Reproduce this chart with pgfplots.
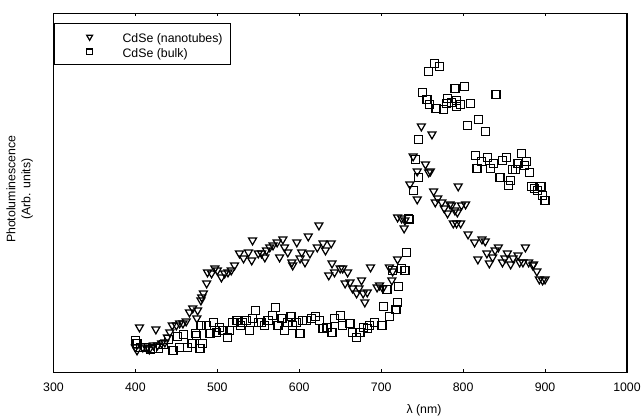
\documentclass[border=0pt]{standalone}
\usepackage{fontspec}
\setmainfont{Liberation Sans}
\usepackage{pgfplots}
\pgfplotsset{compat=1.18}

\begin{document}
\fontsize{8}{9.7}\selectfont
\begin{tikzpicture}
\begin{axis}[
    scale only axis,
    width=372.4pt, height=233.1pt,
    xmin=300, xmax=1000,
    ymin=0, ymax=359,
    xtick={300,400,...,1000},
    ytick=\empty,
    xtick pos=both,
    tick align=inside,
    major tick length=2pt,
    axis line style={line width=0.9pt},
    every tick/.style={black, line width=0.6pt},
    /pgf/number format/assume math mode=true,
    /pgf/number format/1000 sep={},
    xticklabel style={yshift=-4.3pt},
    xlabel={λ (nm)},
    xlabel style={at={(axis description cs:0.646,-0.106)}, anchor=center},
    ylabel={Photoluminescence\\(Arb. units)},
    ylabel style={at={(axis description cs:-0.059,0.51)}, anchor=center, align=center},
    legend style={at={(0,0.973)}, anchor=north west, draw=black, line width=0.8pt,
        inner xsep=5.2pt, inner ysep=4.3pt, row sep=1.5pt,
        nodes={inner sep=0pt, text height=8.2pt, text depth=0pt}},
    legend cell align=left,
    legend image code/.code={
        \path (-17.5pt,0pt) (21pt,0pt);
        \draw[#1, /tikz/every mark/.append style={scale=0.72}] plot coordinates {(0pt,-0.3pt)};
    },
]
% nanotubes
\addplot[only marks, mark=triangle, mark size=3pt, mark options={rotate=180, line width=0.8pt, fill=white, draw=black}] coordinates {
(400,25) (402,22) (405,45) (409,25) (414,24) (417,23) (422,27) (425,43) (427,27) (432,29)
(436,30) (439,35) (442,40) (445,47) (450,47) (454,49) (458,49) (462,51) (466,60) (470,64)
(475,54) (476,62) (480,72) (481,75) (483,79) (487,89) (488,100) (493,99) (497,104) (500,102)
(505,95) (509,99) (513,100) (517,102) (521,107) (527,119) (532,114) (538,120) (543,132) (542,112)
(550,119) (554,119) (558,115) (560,122) (564,125) (568,127) (573,130) (576,115) (580,133) (582,125)
(586,120) (591,110) (592,107) (597,130) (601,114) (603,120) (607,110) (611,136) (613,119) (622,125)
(624,147) (629,129) (632,122) (636,97) (639,129) (640,109) (643,100) (650,104) (653,104) (659,100)
(656,89) (662,90) (665,84) (670,79) (673,84) (676,92) (678,79) (680,70) (683,80) (687,105)
(695,85) (698,87) (702,84) (710,105) (713,92) (714,101) (720,113) (720,155) (725,154) (728,144)
(729,152) (735,188) (739,216) (744,201) (744,173) (749,246) (754,208) (758,200) (760,201) (762,238)
(764,181) (766,170) (769,174) (774,170) (777,164) (781,159) (784,168) (786,167) (788,149) (790,162)
(792,149) (793,160) (794,186) (797,149) (798,167) (803,168) (806,138) (814,130) (818,113) (823,133)
(827,131) (829,119) (832,109) (836,115) (839,122) (843,125) (848,110) (851,114) (854,119) (858,108)
(861,114) (867,117) (869,110) (873,110) (876,125) (880,110) (885,107) (886,108) (890,101) (893,93)
(897,92) (900,93)
};
\addlegendentry{CdSe (nanotubes)}
% bulk
\addplot[only marks, mark=square, mark size=2.6pt, mark options={line width=0.8pt, fill=white, draw=black}] coordinates {
(400,32) (402,29) (406,25) (412,25) (418,23) (421,24) (428,24) (434,28) (440,33) (446,22)
(451,36) (454,25) (459,38) (464,25) (469,29) (473,39) (475,37) (479,24) (480,47) (482,29)
(487,47) (491,39) (495,50) (499,40) (503,45) (507,42) (512,35) (515,42) (519,50) (524,52)
(528,47) (531,50) (536,52) (539,42) (543,54) (547,62) (550,50) (554,50) (558,47) (562,52)
(567,57) (571,65) (574,47) (579,54) (582,42) (586,50) (590,56) (592,47) (597,50) (601,39)
(604,52) (609,52) (615,54) (620,56) (625,52) (629,44) (634,45) (640,40) (643,54) (650,57)
(653,47) (662,49) (665,40) (670,35) (674,40) (678,45) (683,44) (686,47) (692,50) (701,47)
(703,66) (707,83) (710,56) (714,102) (718,63) (720,70) (721,86) (725,104) (729,102) (731,120)
(733,154) (735,153) (739,182) (742,213) (746,195) (746,233) (750,280) (756,273) (758,301) (759,268)
(765,309) (767,264) (771,306) (776,263) (780,269) (781,274) (786,270) (790,284) (792,272) (792,266)
(797,268) (802,286) (805,247) (809,269) (815,217) (817,204) (819,253) (822,211) (827,241) (830,215)
(833,204) (837,209) (840,278) (845,195) (848,212) (853,215) (855,187) (858,192) (860,203) (864,203)
(867,209) (871,219) (875,207) (877,211) (881,200) (883,186) (887,184) (891,182) (895,186) (897,177)
(900,172)
};
\addlegendentry{CdSe (bulk)}
\coordinate (sw) at (rel axis cs:0,0);
\coordinate (ne) at (rel axis cs:1,1);
\end{axis}
\pgfresetboundingbox
\path (sw) +(-34.7pt,-29.7pt) (ne) +(9.1pt,8.6pt);
\end{tikzpicture}
\end{document}
